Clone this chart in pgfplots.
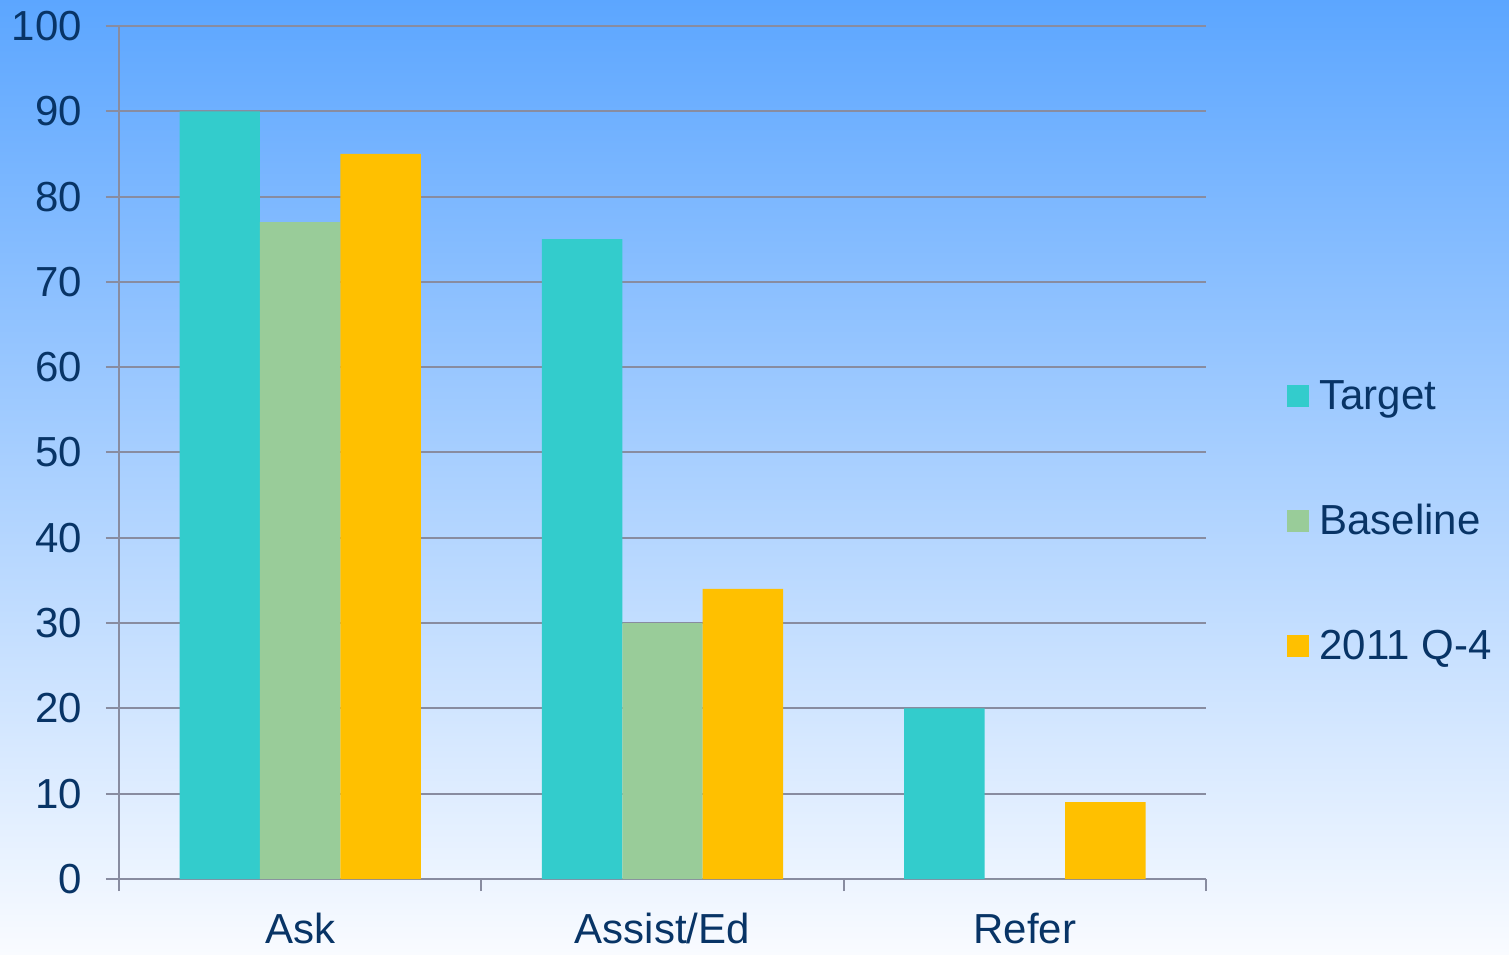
\documentclass[border=0pt]{standalone}
\usepackage{fontspec}
\setmainfont{Liberation Sans}
\usepackage{pgfplots}
\pgfplotsset{compat=1.18}
\definecolor{topblue}{RGB}{92,166,255}
\definecolor{botwhite}{RGB}{249,251,255}
\definecolor{navy}{RGB}{8,52,102}
\definecolor{gridgray}{RGB}{136,140,160}
\definecolor{tealc}{HTML}{33CCCC}
\definecolor{greenc}{HTML}{99CC99}
\definecolor{yellowc}{HTML}{FFC000}
\begin{document}
\begin{tikzpicture}
\shade[top color=topblue, bottom color=botwhite] (0,0) rectangle (754.5pt,477pt);
\useasboundingbox (0,0) rectangle (754.5pt,477pt);
\begin{axis}[
  at={(59.5pt,37.5pt)}, anchor=south west,
  scale only axis, width=543.5pt, height=426.5pt,
  ybar=0pt, bar width=0.222,
  xmin=-0.5, xmax=2.5, ymin=0, ymax=100,
  xtick={0,1,2}, xticklabels={Ask,Assist/Ed,Refer},
  minor xtick={-0.5,0.5,1.5,2.5},
  ytick={0,10,...,100},
  axis lines*=left,
  axis line style={gridgray, line width=1pt},
  ymajorgrids, grid style={gridgray, line width=1pt},
  tick align=outside,
  major tick length=6.5pt, minor tick length=6pt,
  every tick/.style={gridgray, line width=1pt},
  major x tick style={draw=none},
  /pgf/number format/assume math mode=true,
  tick label style={font=\fontsize{21}{25}\selectfont, text=navy},
  yticklabel style={xshift=-8.5pt},
  xticklabel style={yshift=-7pt},
  legend style={draw=none, fill=none, at={(1.069,0.591)}, anchor=north west,
    font=\fontsize{21}{25}\selectfont, text=navy,
    row sep=43pt, column sep=5pt,
    nodes={inner sep=0pt, text height=15pt, text depth=4.5pt}},
  legend cell align=left,
  legend image code/.code={\fill (0pt,-4pt) rectangle (11pt,7pt);},
]
\addplot[fill=tealc, draw=none] coordinates {(0,90) (1,75) (2,20)};
\addplot[fill=greenc, draw=none] coordinates {(0,77) (1,30) (2,0)};
\addplot[fill=yellowc, draw=none] coordinates {(0,85) (1,34) (2,9)};
\legend{Target,Baseline,2011 Q-4}
\end{axis}
\end{tikzpicture}
\end{document}
